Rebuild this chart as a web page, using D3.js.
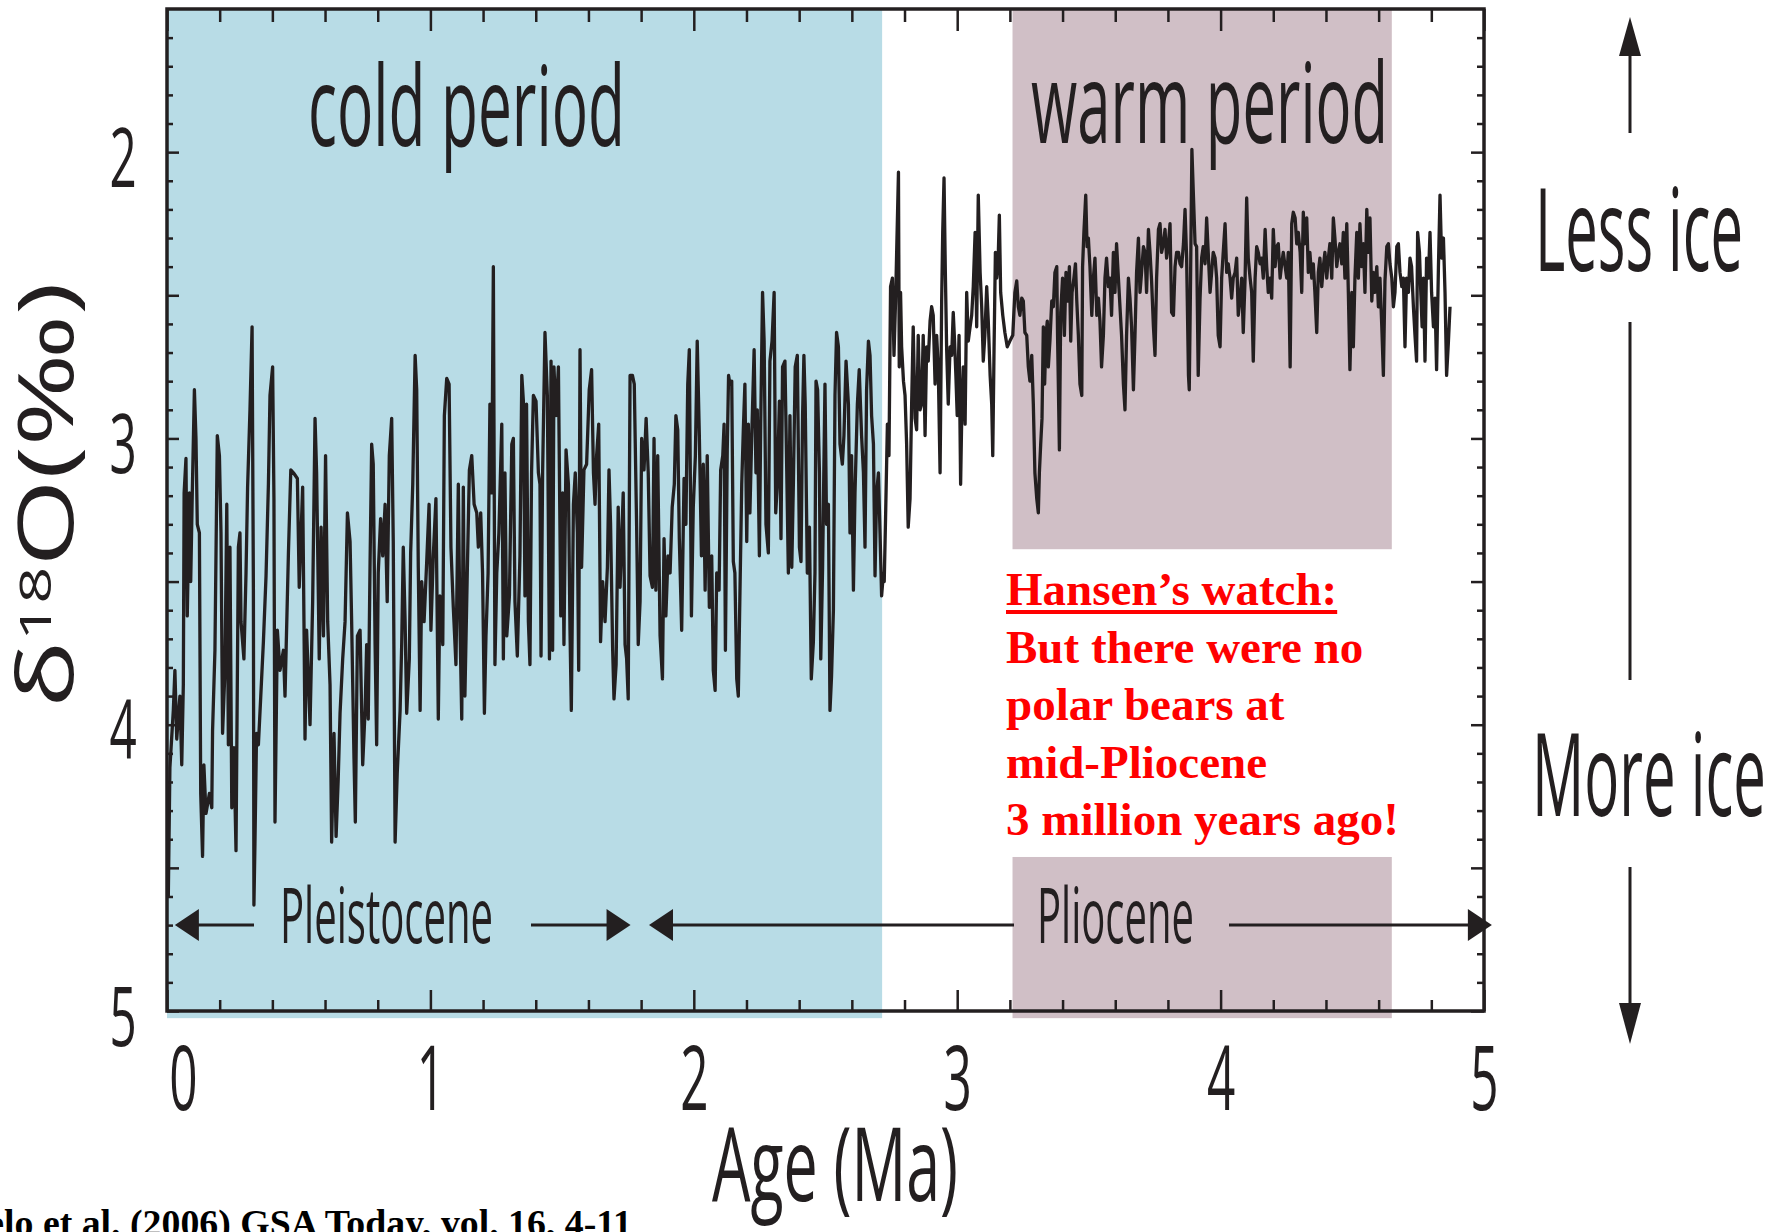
<!DOCTYPE html>
<meta charset="utf-8">
<style>
body{margin:0;background:white}
text{font-family:"Open Sans",sans-serif;fill:#231f20}
.red{font-family:"Liberation Serif","Times New Roman",serif;font-weight:bold;fill:#ff0000}
.ref{font-family:"Liberation Serif","Times New Roman",serif;font-weight:bold;fill:#000}
</style>
<svg width="1785" height="1232"></svg>
<script src="https://d3js.org/d3.v7.min.js"></script>
<script>

// benthic d18O stack, [age Ma, d18O permil]
var d18oRecord = [
  [0.005,4.60],[0.011,4.15],[0.024,3.95],[0.030,3.81],[0.037,4.05],[0.049,3.90],[0.056,4.14],[0.062,3.86],[0.065,3.19],[0.072,3.07],
  [0.077,3.62],[0.085,3.19],[0.090,3.50],[0.096,3.19],[0.104,2.83],[0.110,3.00],[0.115,3.30],[0.123,3.33],[0.128,4.24],[0.135,4.46],
  [0.140,4.14],[0.148,4.31],[0.161,4.24],[0.170,4.29],[0.173,4.02],[0.182,3.74],[0.191,2.99],[0.199,3.06],[0.205,3.33],[0.211,4.03],
  [0.220,3.81],[0.227,3.23],[0.233,4.07],[0.239,3.38],[0.246,4.29],[0.254,4.08],[0.262,4.44],[0.271,3.38],[0.277,3.33],[0.281,3.64],
  [0.292,3.77],[0.300,3.47],[0.306,3.17],[0.315,2.90],[0.323,2.61],[0.328,3.53],[0.330,4.63],[0.334,4.41],[0.340,4.03],[0.347,4.07],
  [0.356,3.90],[0.366,3.71],[0.376,3.48],[0.385,3.16],[0.391,2.85],[0.401,2.75],[0.406,3.21],[0.410,4.34],[0.419,3.67],[0.429,3.81],
  [0.442,3.74],[0.448,3.90],[0.461,3.40],[0.470,3.11],[0.480,3.12],[0.495,3.14],[0.502,3.52],[0.515,3.17],[0.520,3.64],[0.524,4.05],
  [0.530,3.67],[0.543,4.00],[0.553,3.57],[0.562,2.93],[0.568,3.12],[0.578,3.77],[0.585,3.31],[0.594,3.69],[0.602,3.06],[0.610,3.64],
  [0.619,3.86],[0.625,4.41],[0.634,4.03],[0.642,4.39],[0.650,4.19],[0.657,3.96],[0.667,3.77],[0.676,3.64],[0.685,3.26],[0.695,3.36],
  [0.701,3.64],[0.710,4.12],[0.715,4.34],[0.723,3.69],[0.733,3.67],[0.743,4.14],[0.752,3.95],[0.758,3.72],[0.764,3.98],[0.771,3.43],
  [0.777,3.02],[0.783,3.09],[0.790,3.72],[0.796,4.07],[0.802,3.47],[0.811,3.28],[0.819,3.41],[0.828,3.23],[0.836,3.57],[0.844,3.06],
  [0.853,2.93],[0.859,3.36],[0.866,4.41],[0.874,4.17],[0.885,3.95],[0.891,3.72],[0.897,3.38],[0.904,3.64],[0.910,3.96],[0.920,3.77],
  [0.925,3.40],[0.933,3.16],[0.942,2.71],[0.948,2.83],[0.954,3.45],[0.961,3.95],[0.967,3.50],[0.976,3.64],[0.986,3.43],[0.995,3.23],
  [1.002,3.67],[1.011,3.41],[1.021,3.21],[1.030,3.98],[1.036,3.55],[1.047,3.72],[1.053,2.92],[1.062,2.79],[1.071,2.81],[1.078,3.38],
  [1.087,3.59],[1.097,3.79],[1.106,3.16],[1.112,3.64],[1.119,3.98],[1.125,3.17],[1.131,3.90],[1.140,3.47],[1.148,3.11],[1.157,3.06],
  [1.166,3.23],[1.176,3.26],[1.182,3.38],[1.191,3.26],[1.198,3.47],[1.205,3.96],[1.211,3.69],[1.219,3.47],[1.226,2.88],[1.233,3.19],
  [1.239,2.40],[1.245,3.79],[1.252,3.47],[1.260,3.33],[1.271,2.95],[1.277,3.77],[1.283,3.12],[1.290,3.69],[1.300,3.55],[1.309,3.02],
  [1.315,3.00],[1.321,3.57],[1.330,3.76],[1.340,3.41],[1.347,2.78],[1.353,2.87],[1.359,3.55],[1.365,2.88],[1.372,3.64],[1.378,3.79],
  [1.384,3.12],[1.391,2.85],[1.401,2.87],[1.410,3.12],[1.416,3.16],
  [1.420,3.76],[1.426,3.12],[1.435,2.63],[1.444,2.85],[1.452,3.77],[1.458,2.73],[1.464,3.74],[1.469,2.75],[1.477,2.92],[1.486,2.75],
  [1.495,3.62],[1.502,3.19],[1.507,3.72],[1.515,3.04],[1.524,3.16],[1.530,3.67],[1.535,3.95],[1.543,3.23],[1.550,3.12],[1.558,3.33],
  [1.563,3.81],[1.568,2.69],[1.574,3.45],[1.583,3.11],[1.593,3.09],[1.603,2.83],[1.612,2.76],[1.619,3.12],[1.625,3.23],[1.631,3.06],
  [1.639,2.95],[1.646,3.71],[1.654,3.50],[1.663,3.64],[1.672,3.45],[1.678,3.11],[1.684,3.30],[1.692,3.74],[1.697,3.91],[1.705,3.79],
  [1.713,3.24],[1.720,3.52],[1.726,3.36],[1.732,3.19],[1.739,3.72],[1.745,3.77],[1.751,3.91],[1.758,2.78],[1.767,2.78],[1.774,2.81],
  [1.783,3.31],[1.789,3.72],[1.796,3.57],[1.802,3.00],[1.811,3.11],[1.819,2.93],[1.827,3.12],[1.834,3.48],[1.843,3.52],[1.849,3.00],
  [1.856,3.53],[1.863,3.06],[1.872,3.69],[1.881,3.84],[1.887,3.35],[1.894,3.62],[1.902,3.41],[1.910,3.47],[1.918,3.24],[1.926,3.16],
  [1.932,2.92],[1.939,2.97],[1.945,3.35],[1.954,3.67],[1.963,3.14],[1.970,3.30],[1.977,2.81],[1.983,2.69],[1.991,3.62],[1.998,3.24],
  [2.006,3.06],[2.013,2.66],[2.021,2.99],[2.029,3.41],[2.036,3.09],[2.043,3.53],[2.051,3.06],[2.059,3.59],[2.068,3.41],[2.074,3.81],
  [2.081,3.88],[2.087,3.47],[2.096,3.53],[2.102,3.11],[2.110,3.06],[2.115,2.95],[2.120,3.74],[2.127,3.04],[2.132,2.78],[2.137,2.81],
  [2.144,2.80],[2.150,3.43],[2.156,3.47],[2.163,3.84],[2.169,3.90],[2.175,3.55],[2.182,3.16],[2.188,2.97],[2.194,2.81],[2.201,3.36],
  [2.207,2.95],[2.213,3.26],[2.220,2.99],[2.229,2.69],[2.236,3.12],[2.241,2.90],[2.249,3.41],[2.254,2.95],[2.261,2.49],[2.267,2.66],
  [2.274,3.30],[2.283,3.40],[2.289,2.73],[2.297,2.66],[2.305,2.49],[2.311,3.26],[2.317,3.16],[2.325,2.87],[2.331,3.35],[2.337,2.75],
  [2.346,2.73],[2.353,3.12],[2.359,3.47],[2.365,2.92],[2.372,3.45],[2.378,3.16],[2.385,2.75],[2.393,2.71],[2.401,3.38],[2.407,3.43],
  [2.413,2.92],[2.418,2.71],[2.423,2.88],[2.431,3.47],[2.439,3.31],[2.446,3.84],[2.454,3.71],[2.460,3.47],[2.464,2.80],[2.470,2.83],
  [2.477,3.12],[2.482,3.77],[2.489,3.45],[2.498,2.81],[2.504,3.30],[2.511,3.23],[2.517,3.95],[2.523,3.83],[2.530,3.60],[2.536,2.85],
  [2.542,2.63],[2.549,2.68],[2.555,3.02],[2.564,3.09],[2.570,2.99],[2.578,2.73],[2.587,2.88],[2.593,3.33],[2.599,3.06],[2.606,3.53],
  [2.612,3.19],[2.621,2.88],[2.628,2.76],[2.637,2.99],[2.644,3.12],[2.650,3.38],[2.656,2.83],[2.663,2.66],[2.669,2.71],[2.675,2.92],
  [2.682,3.02],[2.688,3.48],[2.694,3.19],[2.701,3.12],[2.707,3.33],[2.713,3.55],[2.720,3.47],[2.723,3.50],[2.728,3.28],[2.735,2.95],
  [2.741,3.06],[2.747,2.47],[2.754,2.44],[2.760,2.71],[2.766,2.52],[2.777,2.07],[2.780,2.75],[2.785,2.49],[2.789,2.68],[2.796,2.80],
  [2.802,2.85],[2.808,3.02],[2.814,3.31],[2.821,3.21],[2.827,2.88],[2.833,2.61],[2.840,2.93],[2.846,2.97],[2.852,2.64],[2.859,2.90],
  [2.865,2.88],[2.871,2.64],[2.878,2.99],[2.884,2.68],[2.890,2.73],[2.897,2.59],[2.903,2.54],[2.909,2.57],[2.916,2.81],[2.922,2.64],
  [2.928,2.75],[2.935,3.12],[2.941,2.52],[2.945,2.28],[2.950,2.09],[2.955,2.42],[2.960,2.69],[2.966,2.88],[2.973,2.68],[2.979,2.71],
  [2.985,2.56],[2.990,2.66],[2.995,2.78],[3.000,2.92],[3.007,2.64],[3.013,3.16],[3.018,2.88],[3.023,2.75],[3.030,2.95],[3.036,2.49],
  [3.042,2.66],[3.049,2.61],[3.055,2.57],[3.061,2.47],[3.068,2.28],[3.074,2.61],[3.080,2.15],[3.087,2.42],[3.093,2.54],[3.099,2.73],
  [3.105,2.64],[3.112,2.47],[3.118,2.59],[3.125,2.78],[3.131,2.88],[3.135,3.06],[3.140,2.68],[3.145,2.35],[3.150,2.44],[3.155,2.39],
  [3.160,2.22],[3.165,2.49],[3.173,2.57],[3.181,2.63],[3.190,2.68],[3.200,2.66],[3.211,2.64],[3.219,2.49],[3.226,2.45],[3.232,2.54],
  [3.238,2.57],[3.245,2.51],[3.251,2.52],[3.257,2.63],[3.264,2.64],[3.270,2.75],[3.276,2.80],[3.283,2.71],[3.289,2.88],[3.295,3.12],
  [3.302,3.21],[3.308,3.26],[3.312,3.12],[3.317,3.02],[3.322,2.93],[3.327,2.61],[3.332,2.81],[3.337,2.64],[3.342,2.59],[3.346,2.75],
  [3.352,2.66],[3.359,2.52],[3.365,2.54],[3.371,2.42],[3.378,2.40],[3.381,2.64],[3.388,3.04],[3.393,2.56],[3.400,2.44],[3.407,2.64],
  [3.413,2.42],[3.419,2.52],[3.426,2.40],[3.431,2.66],[3.436,2.49],[3.443,2.44],[3.449,2.39],[3.454,2.52],[3.460,2.64],[3.466,2.81],
  [3.473,2.85],[3.476,2.40],[3.481,2.28],[3.488,2.15],[3.493,2.33],[3.498,2.30],[3.504,2.40],[3.511,2.57],[3.517,2.44],[3.523,2.37],
  [3.530,2.57],[3.536,2.51],[3.542,2.59],[3.548,2.75],[3.555,2.64],[3.561,2.44],[3.567,2.37],[3.574,2.47],[3.580,2.44],
  [3.586,2.57],[3.593,2.35],[3.599,2.49],[3.605,2.32],[3.612,2.44],[3.618,2.54],[3.624,2.64],[3.631,2.81],[3.637,2.90],[3.643,2.64],
  [3.650,2.44],[3.656,2.51],[3.662,2.61],[3.669,2.83],[3.675,2.64],[3.681,2.42],[3.688,2.30],[3.694,2.49],[3.700,2.42],[3.707,2.33],
  [3.713,2.35],[3.719,2.49],[3.726,2.27],[3.732,2.35],[3.738,2.45],[3.745,2.61],[3.751,2.71],[3.757,2.44],[3.764,2.27],[3.770,2.25],
  [3.776,2.35],[3.783,2.32],[3.789,2.27],[3.795,2.37],[3.802,2.32],[3.808,2.25],[3.814,2.56],[3.821,2.57],[3.827,2.40],[3.833,2.35],
  [3.840,2.35],[3.846,2.39],[3.852,2.40],[3.859,2.32],[3.865,2.20],[3.871,2.37],[3.878,2.78],[3.881,2.83],[3.886,2.44],[3.891,1.99],
  [3.896,2.13],[3.903,2.32],[3.909,2.33],[3.915,2.78],[3.922,2.51],[3.928,2.37],[3.934,2.33],[3.941,2.39],[3.947,2.23],[3.953,2.35],
  [3.960,2.49],[3.966,2.42],[3.972,2.35],[3.979,2.37],[3.985,2.44],[3.991,2.64],[3.998,2.68],[4.004,2.44],[4.010,2.35],[4.017,2.25],
  [4.023,2.42],[4.029,2.39],[4.036,2.44],[4.042,2.51],[4.048,2.44],[4.055,2.42],[4.061,2.37],[4.067,2.57],[4.074,2.51],[4.080,2.44],
  [4.086,2.63],[4.093,2.44],[4.099,2.16],[4.105,2.37],[4.112,2.44],[4.118,2.49],[4.124,2.73],[4.131,2.44],[4.137,2.33],[4.143,2.35],
  [4.150,2.39],[4.156,2.37],[4.162,2.44],[4.169,2.27],[4.175,2.40],[4.181,2.49],[4.188,2.44],[4.194,2.51],[4.200,2.27],[4.207,2.40],
  [4.213,2.33],[4.219,2.32],[4.226,2.44],[4.232,2.39],[4.238,2.35],[4.245,2.40],[4.251,2.44],[4.257,2.35],[4.264,2.75],[4.270,2.25],
  [4.276,2.21],[4.283,2.23],[4.289,2.32],[4.295,2.28],[4.302,2.35],
  [4.308,2.49],[4.314,2.21],[4.320,2.32],[4.327,2.23],[4.333,2.42],[4.339,2.35],[4.346,2.44],[4.352,2.39],[4.358,2.49],[4.365,2.63],
  [4.371,2.42],[4.377,2.37],[4.384,2.47],[4.390,2.40],[4.396,2.35],[4.403,2.44],[4.409,2.37],[4.415,2.32],[4.422,2.44],[4.428,2.23],
  [4.434,2.30],[4.441,2.40],[4.447,2.35],[4.453,2.32],[4.460,2.39],[4.466,2.28],[4.472,2.44],[4.479,2.25],[4.485,2.49],[4.491,2.76],
  [4.498,2.49],[4.504,2.68],[4.510,2.44],[4.517,2.28],[4.523,2.44],[4.529,2.25],[4.536,2.40],[4.542,2.32],[4.548,2.49],[4.555,2.20],
  [4.561,2.35],[4.567,2.23],[4.574,2.52],[4.580,2.42],[4.586,2.49],[4.593,2.40],[4.599,2.54],[4.605,2.44],[4.612,2.61],[4.618,2.78],
  [4.624,2.45],[4.631,2.33],[4.637,2.32],[4.643,2.39],[4.650,2.44],[4.656,2.54],[4.662,2.49],[4.669,2.33],[4.675,2.32],[4.681,2.42],
  [4.688,2.47],[4.694,2.44],[4.700,2.68],[4.706,2.44],[4.713,2.49],[4.719,2.37],[4.725,2.40],[4.732,2.54],[4.738,2.64],[4.744,2.73],
  [4.748,2.28],[4.755,2.35],[4.760,2.49],[4.765,2.61],[4.770,2.44],[4.776,2.73],[4.782,2.37],[4.789,2.44],[4.795,2.28],[4.801,2.49],
  [4.808,2.61],[4.814,2.51],[4.820,2.76],[4.827,2.40],[4.833,2.15],[4.839,2.37],[4.846,2.30],[4.852,2.49],[4.858,2.78],[4.865,2.66],
  [4.871,2.54]
];

var xTickLabels = [0, 1, 2, 3, 4, 5];
var yTickLabels = [2, 3, 4, 5];
var coldPeriod = [0, 2.715];      // Ma
var warmPeriod = [3.21, 4.65];    // Ma
var noteAges = [3.10, 4.82];      // white box behind the red note
var noteD18O = [3.387, 4.462];
var pleistocene = [0.03, 1.76];
var pliocene = [1.83, 5.03];
var epochLevel = 4.7;
var noteLines = ["Hansen\u2019s watch:", "But there were no", "polar bears at", "mid-Pliocene", "3 million years ago!"];

var svg = d3.select("svg");
var ink = "#231f20";

var x = d3.scaleLinear().domain([0, 5]).range([167, 1484]);
var y = d3.scaleLinear().domain([1.5, 5]).range([9, 1011]);

// shaded periods
svg.append("rect")
    .attr("x", x(coldPeriod[0])).attr("width", x(coldPeriod[1]) - x(coldPeriod[0]))
    .attr("y", y(1.5)).attr("height", y(5.025) - y(1.5))
    .attr("fill", "#b8dce6");
svg.append("rect")
    .attr("x", x(warmPeriod[0])).attr("width", x(warmPeriod[1]) - x(warmPeriod[0]))
    .attr("y", y(1.5)).attr("height", y(5.025) - y(1.5))
    .attr("fill", "#d0bfc6");
svg.append("rect")
    .attr("x", x(noteAges[0])).attr("width", x(noteAges[1]) - x(noteAges[0]))
    .attr("y", y(noteD18O[0])).attr("height", y(noteD18O[1]) - y(noteD18O[0]))
    .attr("fill", "#fff");

// the record
var line = d3.line()
    .x(function(d) { return x(d[0]); })
    .y(function(d) { return y(d[1]); });

svg.append("path")
    .datum(d18oRecord)
    .attr("d", line)
    .attr("fill", "none")
    .attr("stroke", ink)
    .attr("stroke-width", 3.3)
    .attr("stroke-linejoin", "round");

// ticks, all pointing inward
var xMinor = d3.range(0, 5.01, 0.2).filter(function(d) { return Math.abs(d - Math.round(d)) > 0.01; });
var yMajor = d3.range(2, 5.01, 0.5);
var yMinor = d3.range(1.6, 5, 0.1).filter(function(d) { return Math.abs(d * 2 - Math.round(d * 2)) > 0.01; });

function tickGroup(axis, tx, ty) {
  var g = svg.append("g")
      .attr("transform", "translate(" + tx + "," + ty + ")")
      .call(axis);
  g.select(".domain").remove();
  g.attr("font-family", null).attr("font-size", null).attr("color", ink);
  g.selectAll("line").attr("stroke-width", 2.5);
  return g;
}

var gx = tickGroup(d3.axisBottom(x).tickValues(xTickLabels).tickSize(-21).tickFormat(d3.format("d")), 0, y(5));
tickGroup(d3.axisBottom(x).tickValues(xMinor).tickSize(-11).tickFormat(""), 0, y(5));
tickGroup(d3.axisTop(x).tickValues(xTickLabels).tickSize(-22).tickFormat(""), 0, y(1.5));
tickGroup(d3.axisTop(x).tickValues(xMinor).tickSize(-13).tickFormat(""), 0, y(1.5));

var gy = tickGroup(d3.axisLeft(y).tickValues(yMajor).tickSize(-12)
    .tickFormat(function(d) { return yTickLabels.indexOf(d) >= 0 ? d : ""; }), x(0), 0);
tickGroup(d3.axisLeft(y).tickValues(yMinor).tickSize(-6).tickFormat(""), x(0), 0);
tickGroup(d3.axisRight(y).tickValues(yMajor).tickSize(-13).tickFormat(""), x(5), 0);
tickGroup(d3.axisRight(y).tickValues(yMinor).tickSize(-7).tickFormat(""), x(5), 0);

gx.selectAll("text")
    .attr("y", null).attr("dy", null)
    .attr("text-anchor", "middle")
    .attr("transform", function(d) { return "translate(" + (d === 0 ? 16 : 0) + ",99) scale(0.55,1)"; })
    .style("font-size", "90px");

gy.selectAll("text")
    .attr("x", null).attr("dy", null)
    .attr("text-anchor", "middle")
    .attr("transform", "translate(-44,34) scale(0.58,1)")
    .style("font-size", "82px");

// frame
svg.append("rect")
    .attr("x", x(0)).attr("y", y(1.5))
    .attr("width", x(5) - x(0)).attr("height", y(5) - y(1.5))
    .attr("fill", "none").attr("stroke", ink).attr("stroke-width", 3.5);

// condensed labels
function label(txt, px, py, size, len) {
  return svg.append("text")
      .attr("x", px).attr("y", py)
      .attr("textLength", len).attr("lengthAdjust", "spacingAndGlyphs")
      .style("font-size", size + "px")
      .text(txt);
}
label("cold period", 308, 146, 112, 317);
label("warm period", 1031, 143, 112, 357);
label("Less ice", 1535, 271, 116, 208);
label("More ice", 1532, 816, 116, 234);
label("Pleistocene", 280, 943, 77, 213);
label("Pliocene", 1037, 943, 77, 157);
label("Age (Ma)", 712, 1201, 102, 246);

// y title
var yt = svg.append("text").style("font-size", "76px");
yt.append("tspan").text("\u03b4");
yt.append("tspan").attr("dy", -22).style("font-size", "44px").text("18");
yt.append("tspan").attr("dy", 22).text("O(\u2030)");
var ytLen = yt.node().getComputedTextLength();
yt.attr("transform", "translate(73,708) rotate(-90) scale(" + (426 / ytLen) + ",1)");

// epoch arrows
var ey = y(epochLevel);
var arrows = svg.append("g").attr("stroke", ink).attr("stroke-width", 3);
function hArrow(tip, dir) {
  svg.append("path")
      .attr("d", "M" + tip + "," + ey + "L" + (tip - dir * 24) + "," + (ey - 16) +
                 "L" + (tip - dir * 24) + "," + (ey + 16) + "Z")
      .attr("fill", ink);
}
arrows.append("line").attr("x1", x(pleistocene[0]) + 20).attr("x2", 254).attr("y1", ey).attr("y2", ey);
arrows.append("line").attr("x1", 531).attr("x2", x(pleistocene[1]) - 20).attr("y1", ey).attr("y2", ey);
arrows.append("line").attr("x1", x(pliocene[0]) + 20).attr("x2", 1014).attr("y1", ey).attr("y2", ey);
arrows.append("line").attr("x1", 1229).attr("x2", x(pliocene[1]) - 20).attr("y1", ey).attr("y2", ey);
hArrow(x(pleistocene[0]), -1);
hArrow(x(pleistocene[1]), 1);
hArrow(x(pliocene[0]), -1);
hArrow(x(pliocene[1]), 1);

// ice arrows on the right
var ax = 1630;
var ice = svg.append("g").attr("stroke", ink).attr("stroke-width", 3);
ice.append("line").attr("x1", ax).attr("x2", ax).attr("y1", 50).attr("y2", 133);
ice.append("line").attr("x1", ax).attr("x2", ax).attr("y1", 322).attr("y2", 680);
ice.append("line").attr("x1", ax).attr("x2", ax).attr("y1", 867).attr("y2", 1008);
svg.append("path").attr("d", "M" + ax + ",17L" + (ax - 11) + ",56L" + (ax + 11) + ",56Z").attr("fill", ink);
svg.append("path").attr("d", "M" + ax + ",1044L" + (ax - 11) + ",1003L" + (ax + 11) + ",1003Z").attr("fill", ink);

// red note
noteLines.forEach(function(t, i) {
  var tx = svg.append("text").attr("class", "red")
      .attr("x", 1006).attr("y", 605 + i * 57.5)
      .style("font-size", "47px")
      .text(t);
  if (i === 0) {
    svg.append("rect").attr("x", 1006).attr("y", 610)
        .attr("width", tx.node().getComputedTextLength()).attr("height", 4)
        .attr("fill", "#ff0000");
  }
});

// source line, cut at the left edge as in the slide
svg.append("text").attr("class", "ref")
    .attr("x", 632).attr("y", 1236)
    .attr("text-anchor", "end")
    .style("font-size", "37.8px")
    .text("Ravelo et al. (2006) GSA Today, vol. 16, 4-11");

</script>
